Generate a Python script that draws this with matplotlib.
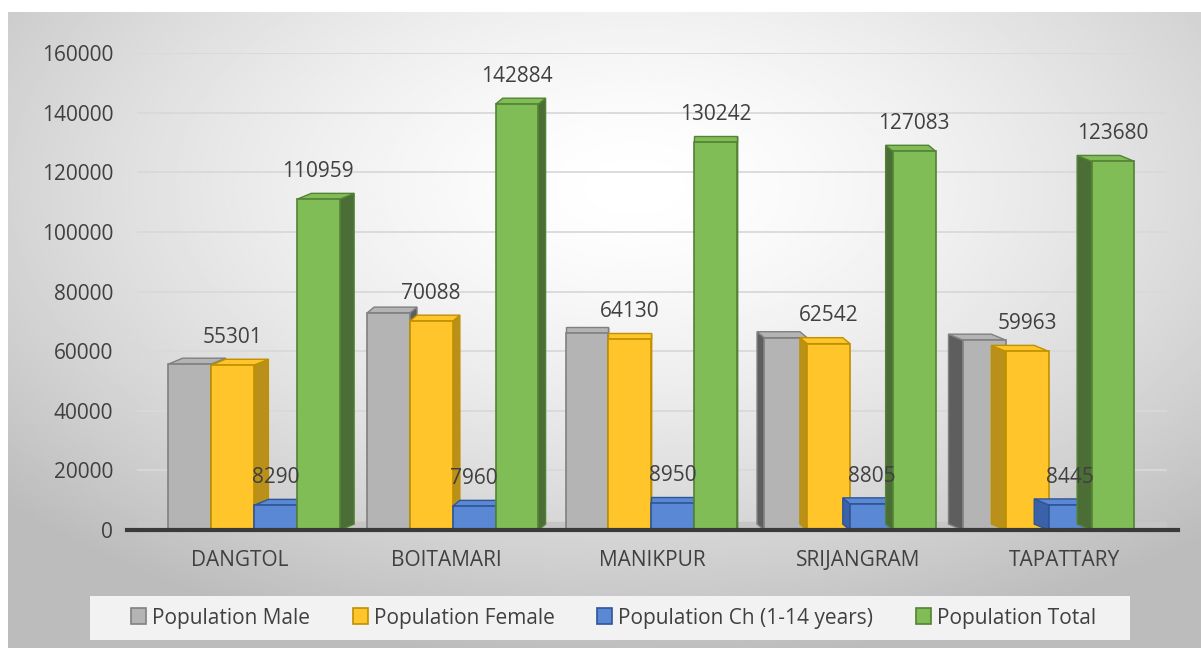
import numpy as np
import matplotlib.pyplot as plt
from matplotlib.patches import Polygon, Rectangle

plt.rcParams['font.family'] = ['Open Sans', 'DejaVu Sans']

categories = ["DANGTOL", "BOITAMARI", "MANIKPUR", "SRIJANGRAM", "TAPATTARY"]
male = [55658, 72796, 66112, 64541, 63717]
female = [55301, 70088, 64130, 62542, 59963]
children = [8290, 7960, 8950, 8805, 8445]
total = [110959, 142884, 130242, 127083, 123680]

series = [
    ("Population Male", male, "#B4B4B4", "#808080", "#5E5E5E", False),
    ("Population Female", female, "#FFC52A", "#BF9000", "#B8901A", True),
    ("Population Ch (1-14 years)", children, "#5A88D4", "#2F5597", "#3A62A8", True),
    ("Population Total", total, "#80BD57", "#548235", "#4A6E35", True),
]

fig = plt.figure(figsize=(12.01, 6.48), dpi=100)

# radial grey background like the Excel chart area (thin white margin top/left)
bg = fig.add_axes([0.007, 0, 0.993, 0.982], zorder=-10)
yy, xx = np.mgrid[-1:1:300j, -1:1:600j]
r = np.sqrt(((xx - 0.05) * 0.85) ** 2 + ((yy + 0.45) * 0.8) ** 2)
bg.imshow(1 - 0.2 * np.clip(r, 0, 1.2) ** 1.5, cmap="gray", vmin=0, vmax=1,
          aspect="auto", extent=[0, 1, 0, 1], origin="upper")
bg.axis("off")

ax = fig.add_axes([0.114, 0.182, 0.858, 0.736])
ax.patch.set_alpha(0)

x = np.arange(len(categories))
w = 0.208
# bars sit slightly closer together than the category labels (perspective)
group_x = x * 0.964 + 0.068
depth_y = 2000

for i, (name, vals, face, edge, side, labelled) in enumerate(series):
    pos = group_x + (i - 1.5) * w
    ax.bar(pos, vals, w, color=face, edgecolor=edge, linewidth=1.2, label=name, zorder=3 + i * 0.1)
    for g, (p, v) in enumerate(zip(pos, vals)):
        dx = 0.07 * (2 - g) / 2
        left, right = p - w / 2, p + w / 2
        near = right if dx >= 0 else left
        ax.add_patch(Polygon([[near, 0], [near + dx, depth_y], [near + dx, v + depth_y], [near, v]],
                             closed=True, facecolor=side, edgecolor=edge, lw=1, zorder=2.9 + i * 0.1))
        ax.add_patch(Polygon([[left, v], [left + dx, v + depth_y], [right + dx, v + depth_y], [right, v]],
                             closed=True, facecolor=face, edgecolor=edge, lw=1, zorder=2.9 + i * 0.1))
        if labelled:
            ax.annotate(f"{v}", (p, v), xytext=(0, 20), textcoords="offset points",
                        ha="center", va="center", fontsize=15, color="#404040", zorder=10)

ax.set_xlim(-0.5, 4.5)
ax.set_ylim(0, 160000)
ax.set_yticks(np.arange(0, 160001, 20000))
ax.set_xticks(x)
ax.set_xticklabels(categories)
ax.tick_params(axis="both", length=0, labelsize=15, colors="#404040")
ax.tick_params(axis="x", pad=14)
ax.tick_params(axis="y", pad=17)
ax.grid(axis="y", color="#D9D9D9", lw=1.3, zorder=0)
for s in ax.spines.values():
    s.set_visible(False)
ax.axhline(0, color="#3A3A3A", lw=3, zorder=5, xmin=-0.01, xmax=1.01, clip_on=False)
ax.axhspan(0, 2800, color="#C6C6C6", zorder=1)

fig.patches.append(Rectangle((0.075, 0.012), 0.866, 0.068, transform=fig.transFigure,
                             facecolor="#F2F2F2", edgecolor="none", zorder=0))
leg = fig.legend(loc="center", bbox_to_anchor=(0.511, 0.046), ncol=4, fontsize=15,
                 frameon=False, handlelength=0.7, handleheight=0.8,
                 handletextpad=0.3, columnspacing=2.05)
for t in leg.get_texts():
    t.set_color("#404040")

fig.savefig("out.png", dpi=100)
